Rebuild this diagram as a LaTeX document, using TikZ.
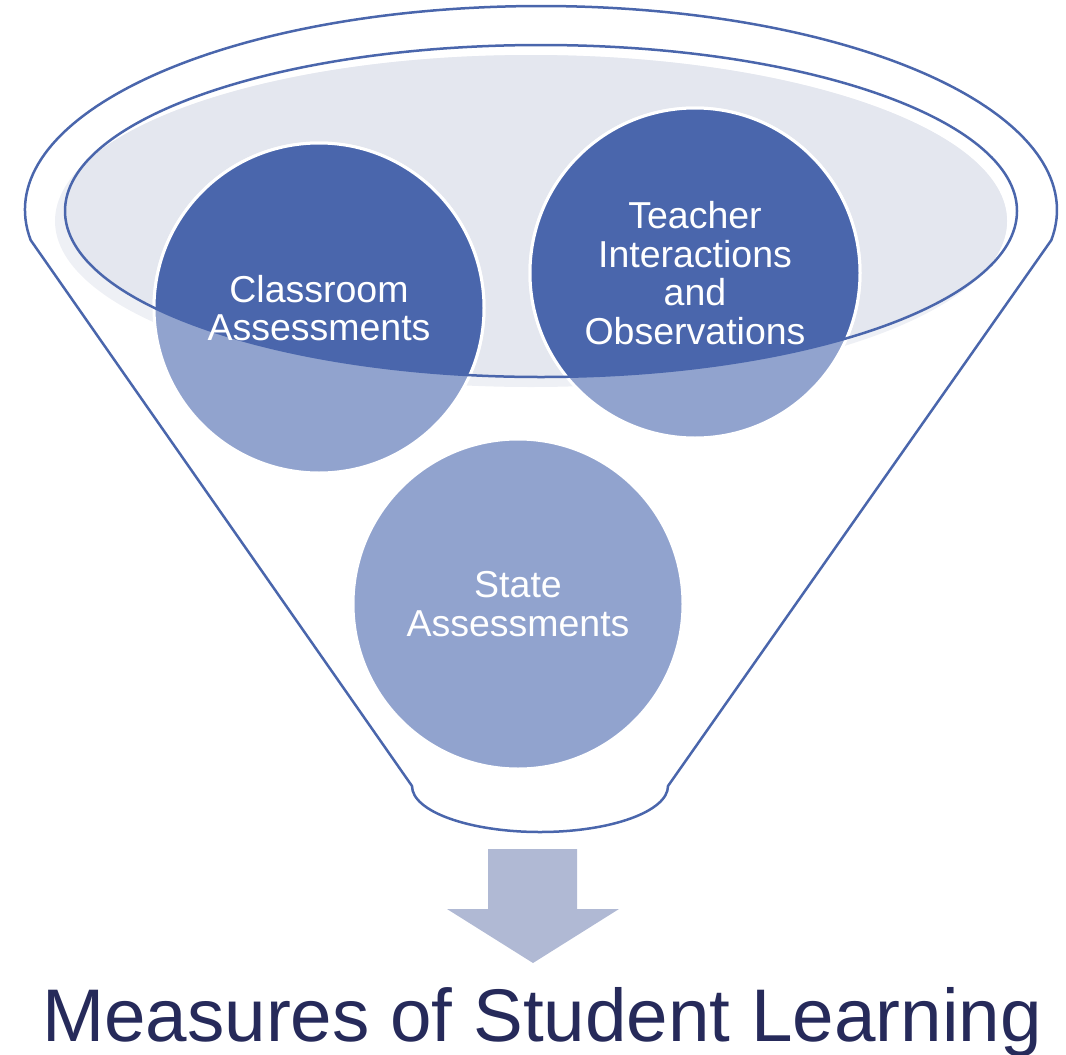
\documentclass[tikz,border=0pt]{standalone}
\usepackage{fontspec}
\setmainfont{Liberation Sans}
\definecolor{fdark}{HTML}{4A66AC}
\definecolor{flight}{HTML}{91A3CE}
\definecolor{fgray}{HTML}{E4E7EF}
\definecolor{fgraylt}{HTML}{EEF0F5}
\definecolor{farrow}{HTML}{B0B9D4}
\definecolor{ftitle}{HTML}{262A5A}
\tikzset{
  funnelline/.style={draw=fdark, line width=2.5pt, line join=round},
  bubble/.style={circle, minimum size=330pt, inner sep=0pt, outer sep=0pt, fill=flight, draw=white, line width=3pt},
  lbl/.style={text=white, align=center, font=\fontsize{37.5}{38.5}\selectfont},
}
\begin{document}
\begin{tikzpicture}[x=1pt,y=-1pt]
\useasboundingbox (0,0) rectangle (1066,1055);
% gray back ellipse
\fill[fgraylt] (531,221) ellipse [x radius=476, y radius=166];
\begin{scope}
  \clip (541,211) ellipse [x radius=476, y radius=166];
  \fill[fgray] (531,221) ellipse [x radius=476, y radius=166];
\end{scope}
% circles
\node[bubble] (c1) at (319,308) {};
\node[bubble] (c2) at (695,273) {};
\node[bubble] (c3) at (518,604) {};
\begin{scope}
  \clip (541,211) ellipse [x radius=476, y radius=166];
  \filldraw[fdark, draw=white, line width=3pt] (c1.center) circle [radius=165];
  \filldraw[fdark, draw=white, line width=3pt] (c2.center) circle [radius=165];
\end{scope}
% inner rim line
\draw[funnelline] (541,211) ellipse [x radius=476, y radius=166];
% funnel outline
\draw[funnelline] (541,210) ++(171.5:516 and 204) coordinate (fl)
  arc [start angle=171.5, end angle=368.5, x radius=516, y radius=204] coordinate (fr)
  -- (668,786) arc [start angle=0, end angle=180, x radius=128, y radius=46] coordinate (bl)
  -- cycle;
% labels
\node[lbl] (t1) at (c1) {Classroom\\Assessments};
\node[lbl] (t2) at (c2) {Teacher\\Interactions\\and\\Observations};
\node[lbl] (t3) at (c3) {State\\Assessments};
% arrow
\fill[farrow] (488,849) -- (577,849) -- (577,909) -- (619,909) -- (533,963) -- (447,909) -- (488,909) -- cycle;
% title
\node[text=ftitle, font=\fontsize{74.6}{80}\selectfont, anchor=base, inner sep=0pt] (title) at (542,1041) {Measures of Student Learning};
\end{tikzpicture}
\end{document}
